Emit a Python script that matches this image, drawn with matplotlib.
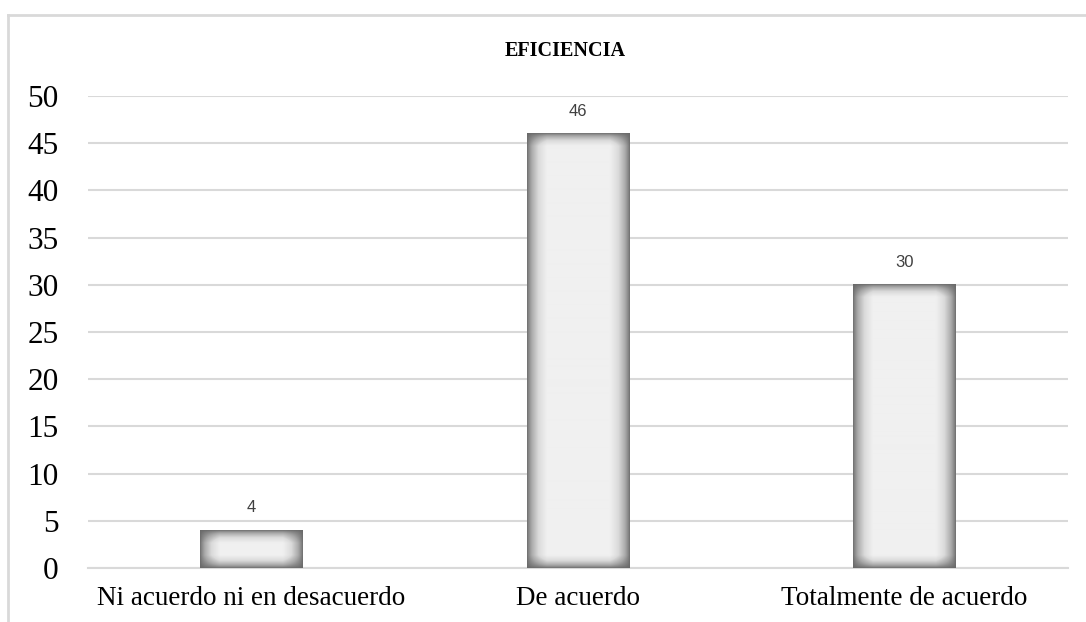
import numpy as np
import matplotlib
matplotlib.use("Agg")
import matplotlib.pyplot as plt
from matplotlib.lines import Line2D
from matplotlib.colors import LinearSegmentedColormap

categories = ["Ni acuerdo ni en desacuerdo", "De acuerdo", "Totalmente de acuerdo"]
values = [4, 46, 30]
title = "EFICIENCIA"

W, H, DPI = 1086, 622, 100
fig = plt.figure(figsize=(W / DPI, H / DPI), dpi=DPI)
ax = fig.add_axes([88 / W, 54 / H, 980 / W, 472 / H])

serif = ["Liberation Serif", "DejaVu Serif"]
grid_c = "#d9d9d9"

x = np.arange(len(categories))
bw = 0.315
bars = ax.bar(x, values, width=bw, color="none", edgecolor="none", zorder=3)

ax.set_xlim(-0.5, len(categories) - 0.5)
ax.set_ylim(0, 50)
ax.set_yticks(np.arange(0, 51, 5))
ax.set_xticks(x)
ax.set_xticklabels(categories, fontfamily=serif, fontsize=19.5)
for lab in ax.get_yticklabels():
    lab.set_fontfamily(serif)
    lab.set_fontsize(22.5)
ax.tick_params(axis="y", length=0, pad=21)
ax.tick_params(axis="x", length=0, pad=13)
ax.yaxis.grid(True, color=grid_c, linewidth=1.5, zorder=0)
ax.set_axisbelow(True)
for s in ["top", "right", "left"]:
    ax.spines[s].set_visible(False)
ax.spines["bottom"].set_color(grid_c)
ax.spines["bottom"].set_linewidth(1.5)

cmap = LinearSegmentedColormap.from_list("sh", ["#686868", "#a8a8a8", "#dadada", "#f0f0f0"])
fig.canvas.draw()
trans = ax.transData
for rect, v in zip(bars.patches, values):
    x0, y0 = rect.get_x(), rect.get_y()
    x1, y1 = x0 + rect.get_width(), y0 + rect.get_height()
    p0 = trans.transform((x0, y0))
    p1 = trans.transform((x1, y1))
    wpx = max(int(round(p1[0] - p0[0])), 2)
    hpx = max(int(round(p1[1] - p0[1])), 2)
    xx = np.arange(wpx) + 0.5
    yy = np.arange(hpx) + 0.5
    dx = np.minimum(xx, wpx - xx)[None, :]
    dy = np.minimum(yy, hpx - yy)[:, None]
    fx = np.clip(dx / 20.0, 0, 1)
    fy = np.clip(dy / 13.0, 0, 1)
    f = fx ** 0.75 * fy ** 0.75
    ax.imshow(f, cmap=cmap, vmin=0, vmax=1, extent=(x0, x1, y0, y1),
              aspect="auto", origin="lower", zorder=3, interpolation="bilinear")
    ax.text(rect.get_x() + rect.get_width() / 2, v + 1.6, str(v),
            ha="center", va="bottom", fontsize=12, color="#404040",
            fontfamily=["Liberation Sans", "DejaVu Sans"], zorder=4)
ax.set_xlim(-0.5, len(categories) - 0.5)
ax.set_ylim(0, 50)

fig.text(565 / W, 1 - 51 / H, title, ha="center", va="center",
         fontsize=14.5, fontweight="bold", fontfamily=serif)

fig.add_artist(Line2D([8 / W, 8 / W], [0, 1 - 15 / H], transform=fig.transFigure,
                      color=grid_c, linewidth=2))
fig.add_artist(Line2D([8 / W, 1], [1 - 15 / H, 1 - 15 / H], transform=fig.transFigure,
                      color=grid_c, linewidth=2))

fig.savefig("out.png", dpi=DPI)
